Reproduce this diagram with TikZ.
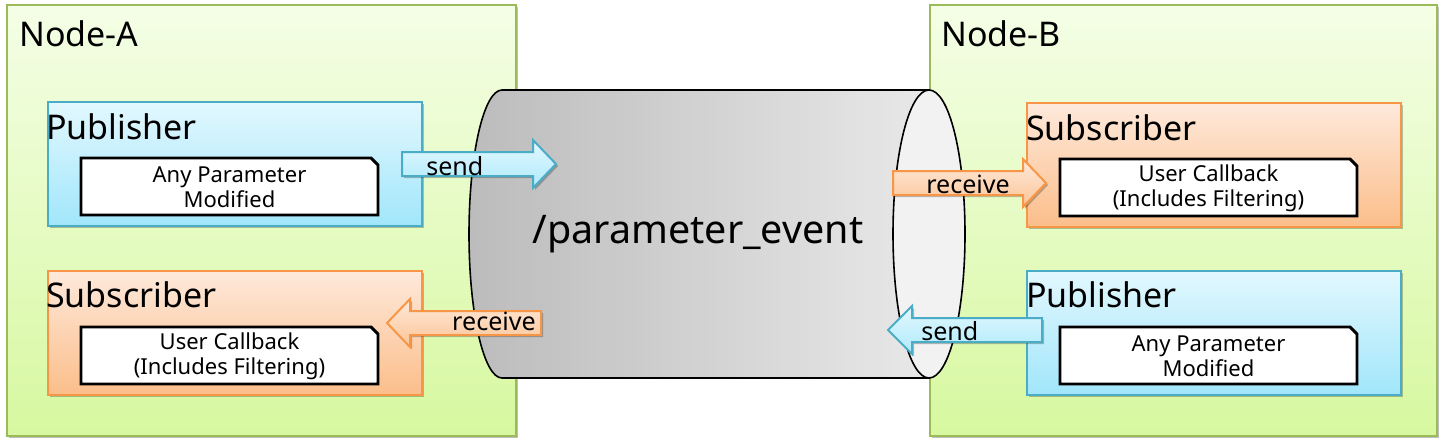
\documentclass[tikz,border=0pt]{standalone}
\usepackage{fontspec}
\setmainfont{Noto Sans}
\usetikzlibrary{shadows}
\definecolor{nodeTop}{HTML}{F4FEE6}
\definecolor{nodeBot}{HTML}{D7F8A0}
\definecolor{nodeLine}{HTML}{9BBB59}
\definecolor{pubTop}{HTML}{E2F8FE}
\definecolor{pubBot}{HTML}{A1E6FB}
\definecolor{pubLine}{HTML}{4BACC6}
\definecolor{subTop}{HTML}{FEE9DB}
\definecolor{subBot}{HTML}{FBBE8A}
\definecolor{subLine}{HTML}{F79646}
\definecolor{cylL}{HTML}{BCBCBC}
\definecolor{cylR}{HTML}{E8E8E8}
\definecolor{cylEnd}{HTML}{F2F2F2}
\begin{document}
\begin{tikzpicture}[x=0.75pt,y=-0.75pt,
  shad/.style={drop shadow={shadow xshift=1.5pt,shadow yshift=-1.5pt,opacity=0.25,fill=black}},
  nodebox/.style={draw=nodeLine,line width=1.5pt,top color=nodeTop,bottom color=nodeBot,shad},
  pubbox/.style={draw=pubLine,line width=1.5pt,top color=pubTop,bottom color=pubBot,shad},
  subbox/.style={draw=subLine,line width=1.5pt,top color=subTop,bottom color=subBot,shad},
  pubarrow/.style={draw=pubLine,line width=1.5pt,top color=pubTop,bottom color=pubBot!85,shad},
  subarrow/.style={draw=subLine,line width=1.5pt,top color=subTop,bottom color=subBot!90,shad},
  innerbox/.style={draw=black,line width=2.2pt,fill=white,line join=miter},
  heading/.style={inner sep=0pt,anchor=base west,font=\fontsize{25.5pt}{30pt}\selectfont},
  innertext/.style={inner sep=0pt,align=center,font=\fontsize{16.5pt}{18.75pt}\selectfont},
  arrowtext/.style={inner sep=0pt,font=\fontsize{18.8pt}{22pt}\selectfont},
  cylline/.style={draw=black,line width=1.2pt},
  cylend/.style={draw=black,line width=1.2pt,fill=cylEnd},
  topicfont/.style={inner sep=0pt,anchor=base,font=\fontsize{29.6pt}{34pt}\selectfont}
]
\useasboundingbox (0,0) rectangle (1445,447);
% node containers
\path[nodebox] (7,5) rectangle (516,436);
\path[nodebox] (930,5) rectangle (1437,436);
\node[heading] (nodeA) at (19,46) {Node-A};
\node[heading] (nodeB) at (941,46) {Node-B};
% Node-A publisher
\path[pubbox] (47.5,102) rectangle (422,226);
\node[heading] (pubA) at (46,139) {Publisher};
\draw[innerbox] (81,158) -- (371,158) -- (378,165) -- (378,215) -- (81,215) -- cycle;
\node[innertext] (pubAtxt) at (229.5,187) {Any Parameter\\Modified};
% Node-A subscriber
\path[subbox] (47.5,271) rectangle (422,395);
\node[heading] (subA) at (46,307) {Subscriber};
\draw[innerbox] (81,327) -- (371,327) -- (378,334) -- (378,384) -- (81,384) -- cycle;
\node[innertext] (subAtxt) at (229.5,356) {User Callback\\(Includes Filtering)};
% Node-B subscriber
\path[subbox] (1027,103) rectangle (1401,227);
\node[heading] (subB) at (1026,140) {Subscriber};
\draw[innerbox] (1060,159) -- (1350,159) -- (1357,166) -- (1357,216) -- (1060,216) -- cycle;
\node[innertext] (subBtxt) at (1208.5,188) {User Callback\\(Includes Filtering)};
% Node-B publisher
\path[pubbox] (1027,271) rectangle (1401,395);
\node[heading] (pubB) at (1026,307) {Publisher};
\draw[innerbox] (1060,327) -- (1350,327) -- (1357,334) -- (1357,384) -- (1060,384) -- cycle;
\node[innertext] (pubBtxt) at (1208.5,356) {Any Parameter\\Modified};
% topic cylinder: body filled with stepped gradient
\begin{scope}
  \clip (502,90) -- (929,90) -- (929,378) -- (502,378)
    arc[start angle=90,end angle=270,x radius=33,y radius=144] -- cycle;
  \foreach \i in {0,...,49} {
    \pgfmathsetmacro\p{\i*2.04}
    \fill[cylR!\p!cylL] ({469+\i*9.2},85) rectangle ({469+(\i+1)*9.2+0.6},385);
  }
\end{scope}
\path[cylline] (502,90) -- (929,90) -- (929,378) -- (502,378)
  arc[start angle=90,end angle=270,x radius=33,y radius=144] -- cycle;
\path[cylend] (929,234) ellipse[x radius=36,y radius=144];
\node[topicfont] (topic) at (698,243) {/parameter\_event};
% arrows
\path[pubarrow] (402,152) -- (533,152) -- (533,140) -- (556,164) -- (533,188) -- (533,176) -- (402,176) -- cycle;
\node[arrowtext,anchor=base west] (sendA) at (426,175) {send};
\path[subarrow] (541,311) -- (410,311) -- (410,299) -- (387,323) -- (410,347) -- (410,335) -- (541,335) -- cycle;
\node[arrowtext,anchor=base east] (recvA) at (536,330) {receive};
\path[subarrow] (893,171) -- (1023,171) -- (1023,159) -- (1046,183) -- (1023,207) -- (1023,195) -- (893,195) -- cycle;
\node[arrowtext,anchor=base west] (recvB) at (926,193) {receive};
\path[pubarrow] (1042,318) -- (912,318) -- (912,306) -- (888,330) -- (912,354) -- (912,342) -- (1042,342) -- cycle;
\node[arrowtext,anchor=base west] (sendB) at (921,340) {send};
\end{tikzpicture}
\end{document}
